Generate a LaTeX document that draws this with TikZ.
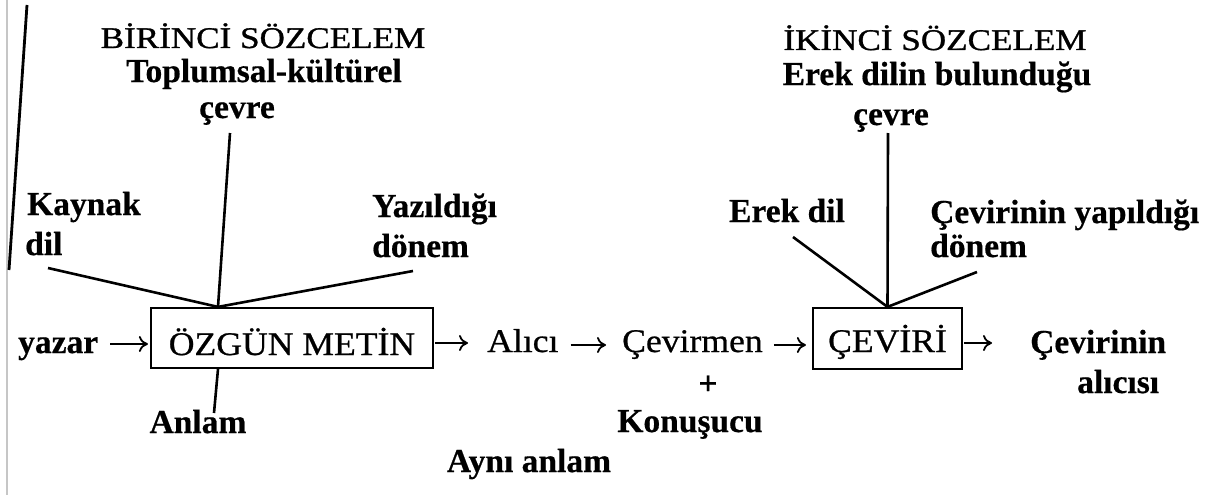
\documentclass[tikz,border=0pt]{standalone}
\usepackage{fontspec}
\setmainfont{Liberation Serif}[BoldFeatures={FakeBold=0.5}]
\newfontfamily\regfont{Liberation Serif}[FakeStretch=1.08, FakeBold=0.7]
\newfontfamily\hdrfont{Liberation Serif}[FakeStretch=1.17, FakeBold=1.0]
\usetikzlibrary{arrows.meta}

\begin{document}
\begin{tikzpicture}[x=1pt,y=-1pt,
  txt/.style={inner sep=0pt, font=\regfont\fontsize{33}{38}\selectfont},
  bd/.style={inner sep=0pt, font=\fontsize{33.5}{38}\selectfont\bfseries},
  hdr/.style={inner sep=0pt, font=\hdrfont\fontsize{30}{36}\selectfont},
  framebox/.style={draw, line width=2.2pt, inner xsep=0pt, inner ysep=0pt,
                   font=\regfont\fontsize{33}{38}\selectfont},
  link/.style={line width=2.6pt},
  arr/.style={line width=1.8pt, -{To[length=9pt,width=16pt]}}
]
\fill[white] (0,0) rectangle (1215,495);
\useasboundingbox (0,0) rectangle (1215,495);

% page edge and margin rule
\draw[gray!45, line width=2pt] (7,0) -- (7,495);
\draw[line width=2.8pt] (27,5) -- (9,270);

% first utterance
\node[hdr, anchor=base] (hA) at (263,48) {BİRİNCİ SÖZCELEM};
\node[bd, anchor=base] (tA1) at (264,82) {Toplumsal-kültürel};
\node[bd, anchor=base] (tA2) at (237,118) {çevre};
\node[bd, anchor=base west] (kA1) at (27,215) {Kaynak};
\node[bd, anchor=base west] (kA2) at (25,255) {dil};
\node[bd, anchor=base west] (yA1) at (372,217) {Yazıldığı};
\node[bd, anchor=base west] (yA2) at (372,257) {dönem};
\node[framebox, anchor=base, text height=47pt, text depth=13pt,
      minimum width=282pt] (boxA) at (292,355) {ÖZGÜN METİN};
\node[bd, anchor=base west] (yazar) at (18,353) {yazar};
\node[bd, anchor=base] (anlam) at (198,433) {Anlam};

% middle chain
\node[txt, anchor=base west] (alici) at (487,352) {Alıcı};
\node[txt, anchor=base west] (cevirmen) at (622,352) {Çevirmen};
\node[bd] (plus) at (708,385) {+};
\node[bd, anchor=base] (konusucu) at (690,432) {Konuşucu};
\node[bd, anchor=base] (ayni) at (529,472) {Aynı anlam};

% second utterance
\node[hdr, anchor=base] (hB) at (935,50) {İKİNCİ SÖZCELEM};
\node[bd, anchor=base] (eB1) at (937,85) {Erek dilin bulunduğu};
\node[bd, anchor=base] (eB2) at (891,125) {çevre};
\node[bd, anchor=base] (erek) at (787,222) {Erek dil};
\node[bd, anchor=base west] (cy1) at (930,223) {Çevirinin yapıldığı};
\node[bd, anchor=base west] (cy2) at (930,257) {dönem};
\node[framebox, anchor=base, text height=44pt, text depth=17pt,
      minimum width=149pt] (boxB) at (887.5,352) {ÇEVİRİ};
\node[bd, anchor=base west] (al1) at (1030,353) {Çevirinin};
\node[bd, anchor=base west] (al2) at (1077,393) {alıcısı};

% line ends
\coordinate (jA) at ([xshift=-74pt]boxA.north);
\coordinate (jAb) at ([xshift=-74pt]boxA.south);
\coordinate (cA) at (230,133);
\coordinate (kA) at (48,268);
\coordinate (yA) at (413,271);
\coordinate (aA) at (214,413);
\coordinate (cB) at (888,133);
\coordinate (kB) at (793,237);
\coordinate (yB) at (977,272);

\draw[link] (cA) -- (jA);
\draw[link] (kA) -- (jA);
\draw[link] (yA) -- (jA);
\draw[link] (jAb) -- (aA);
\draw[link] (cB) -- (boxB.north);
\draw[link] (kB) -- (boxB.north);
\draw[link] (yB) -- (boxB.north);

% flow arrows
\coordinate (m0) at ([yshift=9pt]yazar.base east);
\coordinate (m1) at ([yshift=7pt]alici.base east);
\coordinate (m2) at ([yshift=7pt]cevirmen.base east);
\coordinate (m3) at ([yshift=12pt]boxA.base east);
\coordinate (m4) at ([yshift=9pt]boxB.base east);
\draw[arr, shorten <=12pt, shorten >=2pt] (m0) -- (m0 -| boxA.west);
\draw[arr, shorten <=1pt, shorten >=19pt] (m3) -- (m3 -| alici.west);
\draw[arr, shorten <=12pt, shorten >=16pt] (m1) -- (m1 -| cevirmen.west);
\draw[arr, shorten <=11pt, shorten >=6pt] (m2) -- (m2 -| boxB.west);
\draw[arr, shorten <=1pt, shorten >=38pt] (m4) -- (m4 -| al1.west);
\end{tikzpicture}
\end{document}
